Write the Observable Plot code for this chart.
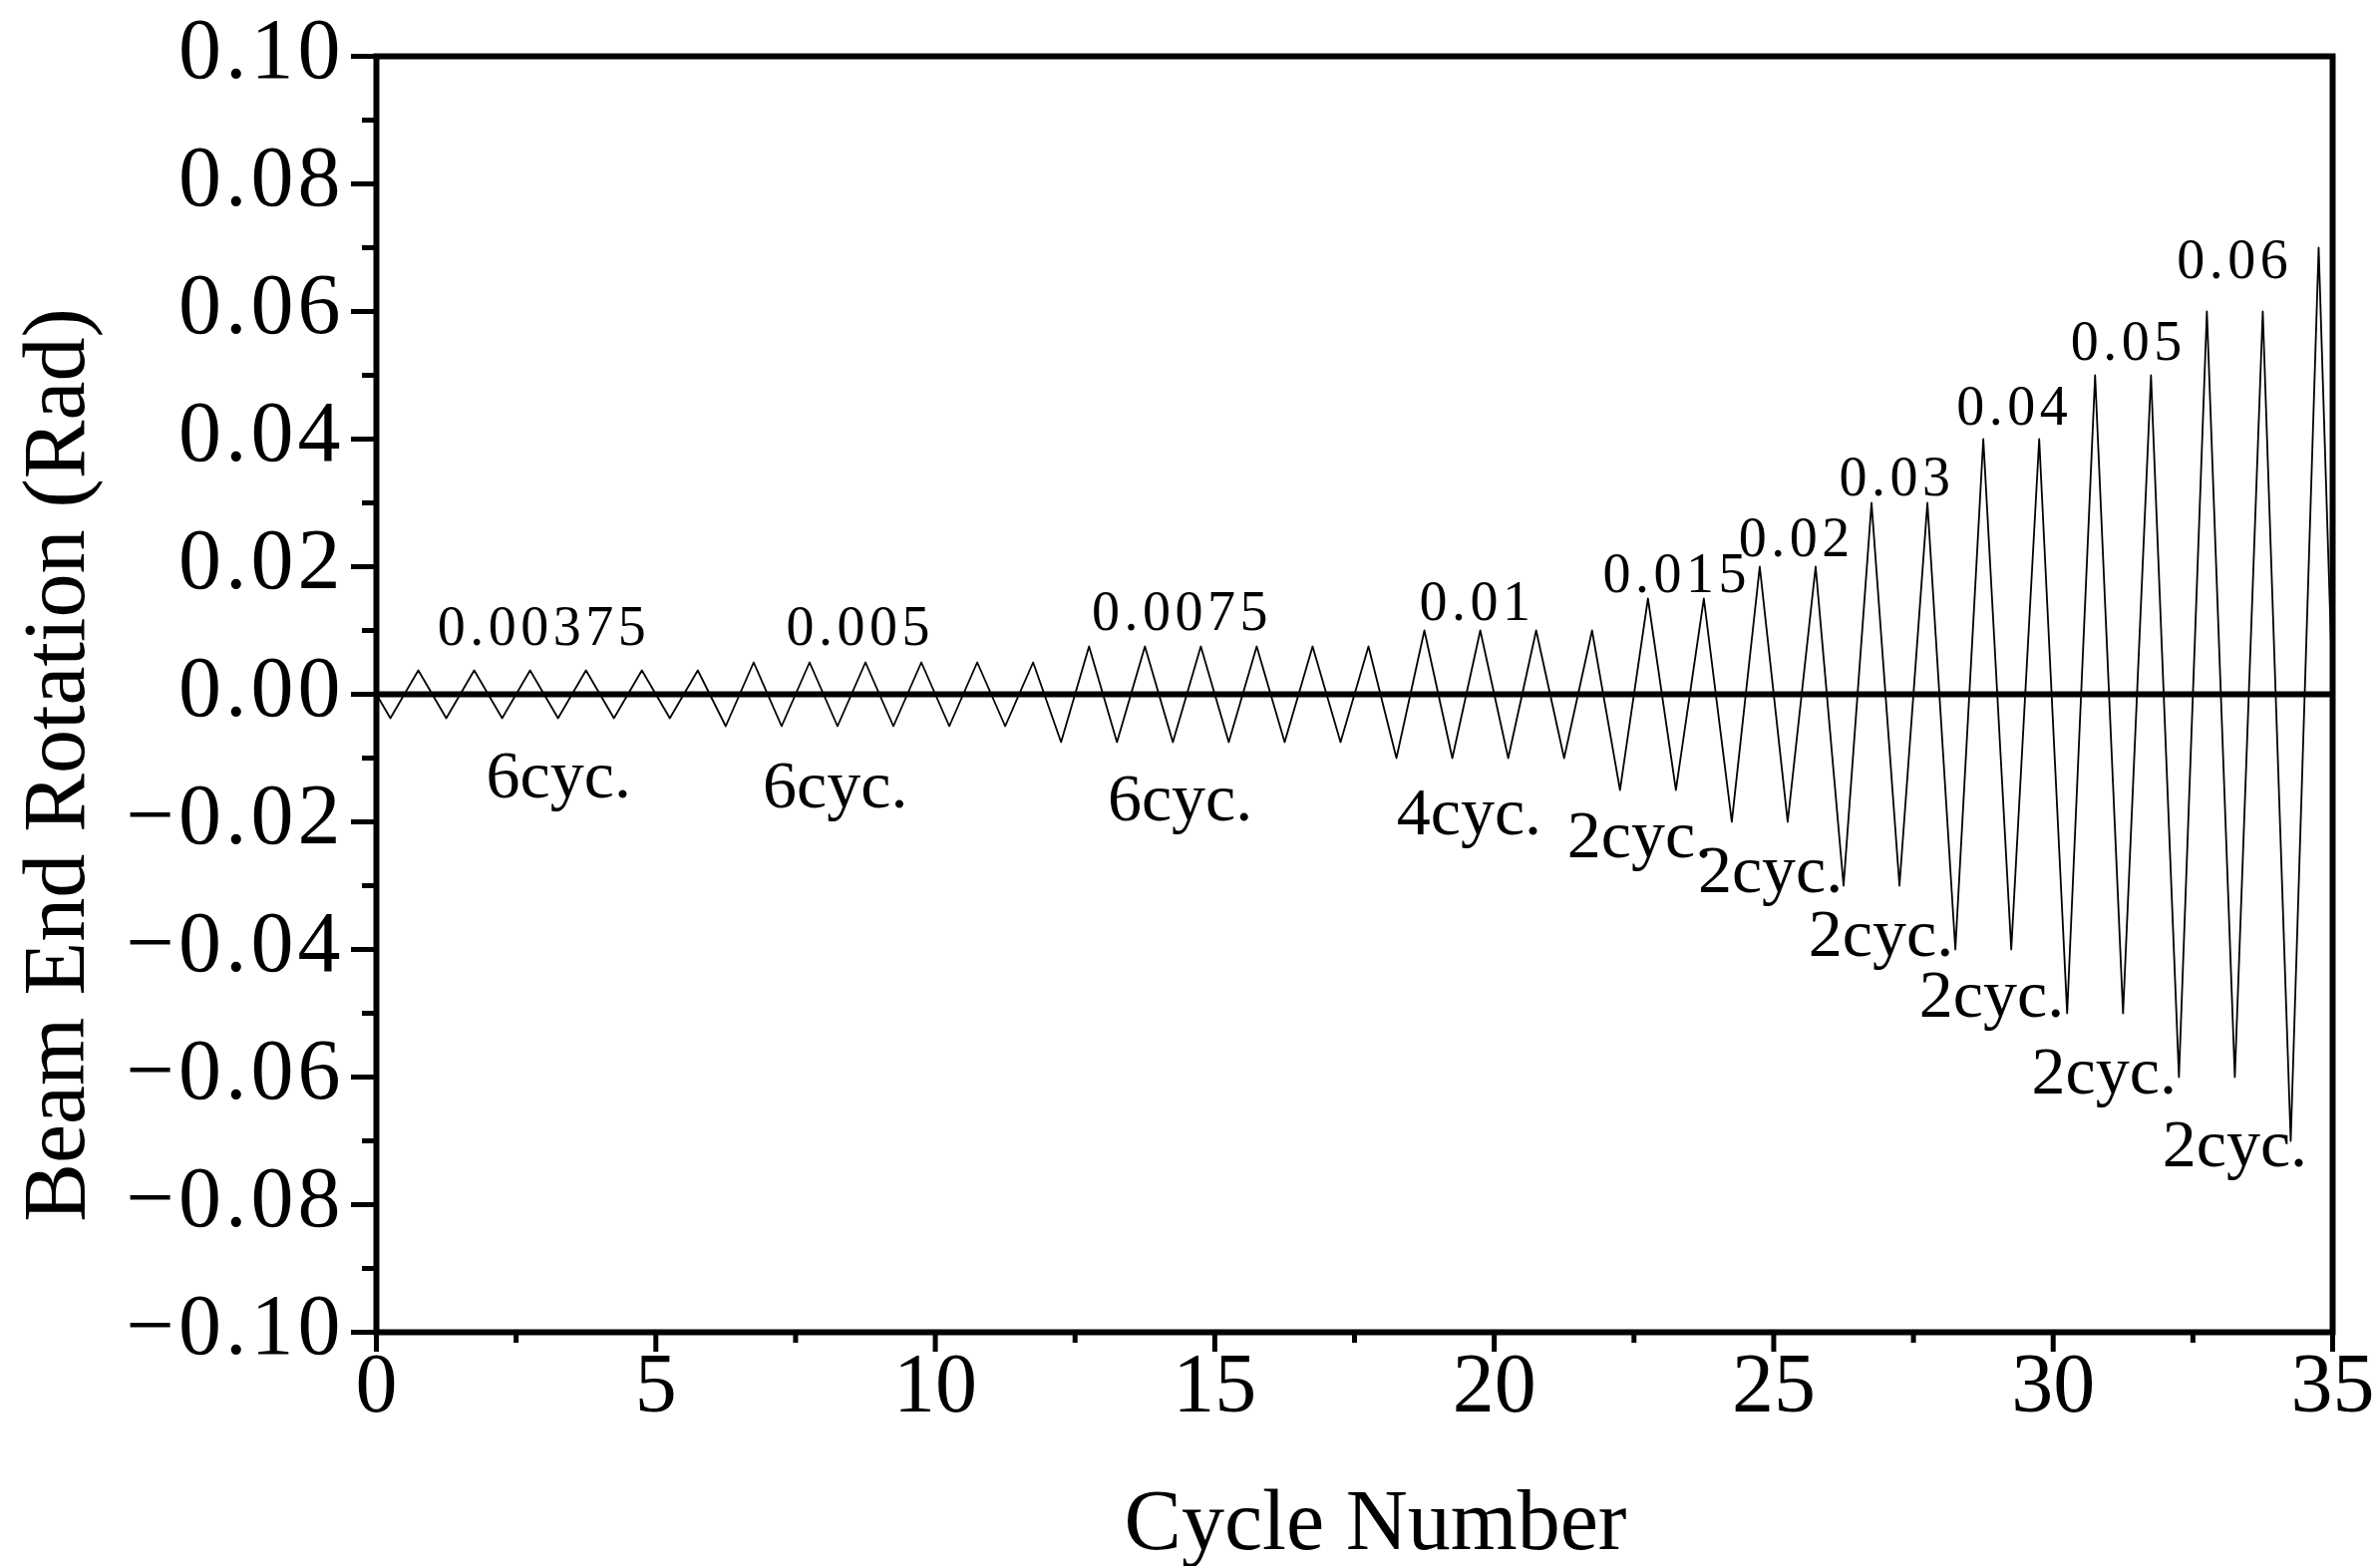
<!DOCTYPE html>
<html>
<head>
<meta charset="utf-8">
<script src="https://cdn.jsdelivr.net/npm/d3@7"></script>
<script src="https://cdn.jsdelivr.net/npm/@observablehq/plot@0.6"></script>
<style>
  html, body { margin: 0; padding: 0; background: #fff; }
  g[aria-label="y-axis tick label"] text { letter-spacing: 4px; }
</style>
</head>
<body>
<div id="chart"></div>
<script>
// Loading protocol vertices: cycle number and beam end rotation (rad)
const cycleX = [
  0,
  0.25, 0.75, 1.25, 1.75, 2.25, 2.75, 3.25, 3.75, 4.25, 4.75, 5.25, 5.75,
  6.25, 6.75, 7.25, 7.75, 8.25, 8.75, 9.25, 9.75, 10.25, 10.75, 11.25, 11.75,
  12.25, 12.75, 13.25, 13.75, 14.25, 14.75, 15.25, 15.75, 16.25, 16.75, 17.25, 17.75,
  18.25, 18.75, 19.25, 19.75, 20.25, 20.75, 21.25, 21.75,
  22.25, 22.75, 23.25, 23.75,
  24.25, 24.75, 25.25, 25.75,
  26.25, 26.75, 27.25, 27.75,
  28.25, 28.75, 29.25, 29.75,
  30.25, 30.75, 31.25, 31.75,
  32.25, 32.75, 33.25, 33.75,
  34.25, 34.75,
  35
];
const rotation = [
  0,
  -0.00375, 0.00375, -0.00375, 0.00375, -0.00375, 0.00375, -0.00375, 0.00375, -0.00375, 0.00375, -0.00375, 0.00375,
  -0.005, 0.005, -0.005, 0.005, -0.005, 0.005, -0.005, 0.005, -0.005, 0.005, -0.005, 0.005,
  -0.0075, 0.0075, -0.0075, 0.0075, -0.0075, 0.0075, -0.0075, 0.0075, -0.0075, 0.0075, -0.0075, 0.0075,
  -0.01, 0.01, -0.01, 0.01, -0.01, 0.01, -0.01, 0.01,
  -0.015, 0.015, -0.015, 0.015,
  -0.02, 0.02, -0.02, 0.02,
  -0.03, 0.03, -0.03, 0.03,
  -0.04, 0.04, -0.04, 0.04,
  -0.05, 0.05, -0.05, 0.05,
  -0.06, 0.06, -0.06, 0.06,
  -0.07, 0.07,
  0
];

// Amplitude annotations
const ampLabels = ["0.00375", "0.005", "0.0075", "0.01", "0.015", "0.02", "0.03", "0.04", "0.05", "0.06"];
const ampX = [2.96, 8.62, 14.38, 19.66, 23.23, 25.37, 27.17, 29.27, 31.31, 33.21];
const ampY = [0.0077, 0.0077, 0.0101, 0.0117, 0.016, 0.0217, 0.0312, 0.0422, 0.0524, 0.0652];

// Cycle-count annotations
const cycLabels = ["6cyc.", "6cyc.", "6cyc.", "4cyc.", "2cyc.", "2cyc.", "2cyc.", "2cyc.", "2cyc.", "2cyc."];
const cycX = [3.26, 8.21, 14.38, 19.55, 22.6, 24.94, 26.92, 28.9, 30.91, 33.25];
const cycY = [-0.0161, -0.0178, -0.0197, -0.022, -0.0256, -0.031, -0.041, -0.0506, -0.0625, -0.074];

// Axis ticks
const xTicks = [0, 5, 10, 15, 20, 25, 30, 35];
const xMinorTicks = [2.5, 7.5, 12.5, 17.5, 22.5, 27.5, 32.5];
const yTicks = [-0.10, -0.08, -0.06, -0.04, -0.02, 0.00, 0.02, 0.04, 0.06, 0.08, 0.10];
const yMinorTicks = [-0.09, -0.07, -0.05, -0.03, -0.01, 0.01, 0.03, 0.05, 0.07, 0.09];
const xTitle = "Cycle Number";
const yTitle = "Beam End Rotation (Rad)";

const wave = cycleX.map((x, i) => ({x, y: rotation[i]}));
const amps = ampLabels.map((t, i) => ({t, x: ampX[i], y: ampY[i]}));
const cycs = cycLabels.map((t, i) => ({t, x: cycX[i], y: cycY[i]}));

const fmtY = d => {
  const s = Math.abs(d).toFixed(2);
  return d < -1e-9 ? "\u2212" + s : s;
};

const chart = Plot.plot({
  width: 2387,
  height: 1571,
  marginLeft: 377,
  marginRight: 48,
  marginTop: 56,
  marginBottom: 235,
  style: {fontFamily: "'Liberation Serif', 'Times New Roman', serif", background: "#fff", color: "#000"},
  x: {domain: [0, 35]},
  y: {domain: [-0.1, 0.1]},
  marks: [
    Plot.line(wave, {x: "x", y: "y", stroke: "#000", strokeWidth: 1.8}),
    Plot.ruleY([0], {stroke: "#000", strokeWidth: 6}),
    Plot.axisY(yTicks, {tickSize: 25, strokeWidth: 5, text: null, label: null}),
    Plot.axisY(yMinorTicks, {tickSize: 14, strokeWidth: 5, text: null, label: null}),
    Plot.axisY(yTicks, {tickSize: 0, tickPadding: 32, fontSize: 86, dy: -6, tickFormat: fmtY, label: null}),
    Plot.axisX(xTicks, {tickSize: 20, strokeWidth: 5, text: null, label: null}),
    Plot.axisX(xMinorTicks, {tickSize: 11, strokeWidth: 5, text: null, label: null}),
    Plot.axisX(xTicks, {tickSize: 0, tickPadding: 20, fontSize: 84, tickFormat: d => String(d), label: null}),
    Plot.frame({stroke: "#000", strokeWidth: 6}),
    Plot.text(amps, {x: "x", y: "y", text: "t", fontSize: 56, lineAnchor: "bottom", textAnchor: "middle", fill: "#000"}),
    Plot.text(cycs, {x: "x", y: "y", text: "t", fontSize: 68, lineAnchor: "bottom", textAnchor: "middle", fill: "#000"}),
    Plot.text([xTitle], {text: d => d, frameAnchor: "bottom", dx: 21, dy: 217, lineAnchor: "bottom", textAnchor: "middle", fontSize: 86, fill: "#000"}),
    Plot.text([yTitle], {text: d => d, frameAnchor: "left", rotate: -90, dx: -294, dy: 71, lineAnchor: "bottom", textAnchor: "middle", fontSize: 88, fill: "#000"})
  ]
});
// widen the amplitude annotations (reference uses a wide letter spacing)
d3.select(chart).selectAll('g[aria-label="text"] text')
  .filter(function() { return ampLabels.includes(this.textContent); })
  .attr("letter-spacing", 4.5)
  .attr("dx", 2);
document.getElementById("chart").appendChild(chart);
</script>
</body>
</html>
